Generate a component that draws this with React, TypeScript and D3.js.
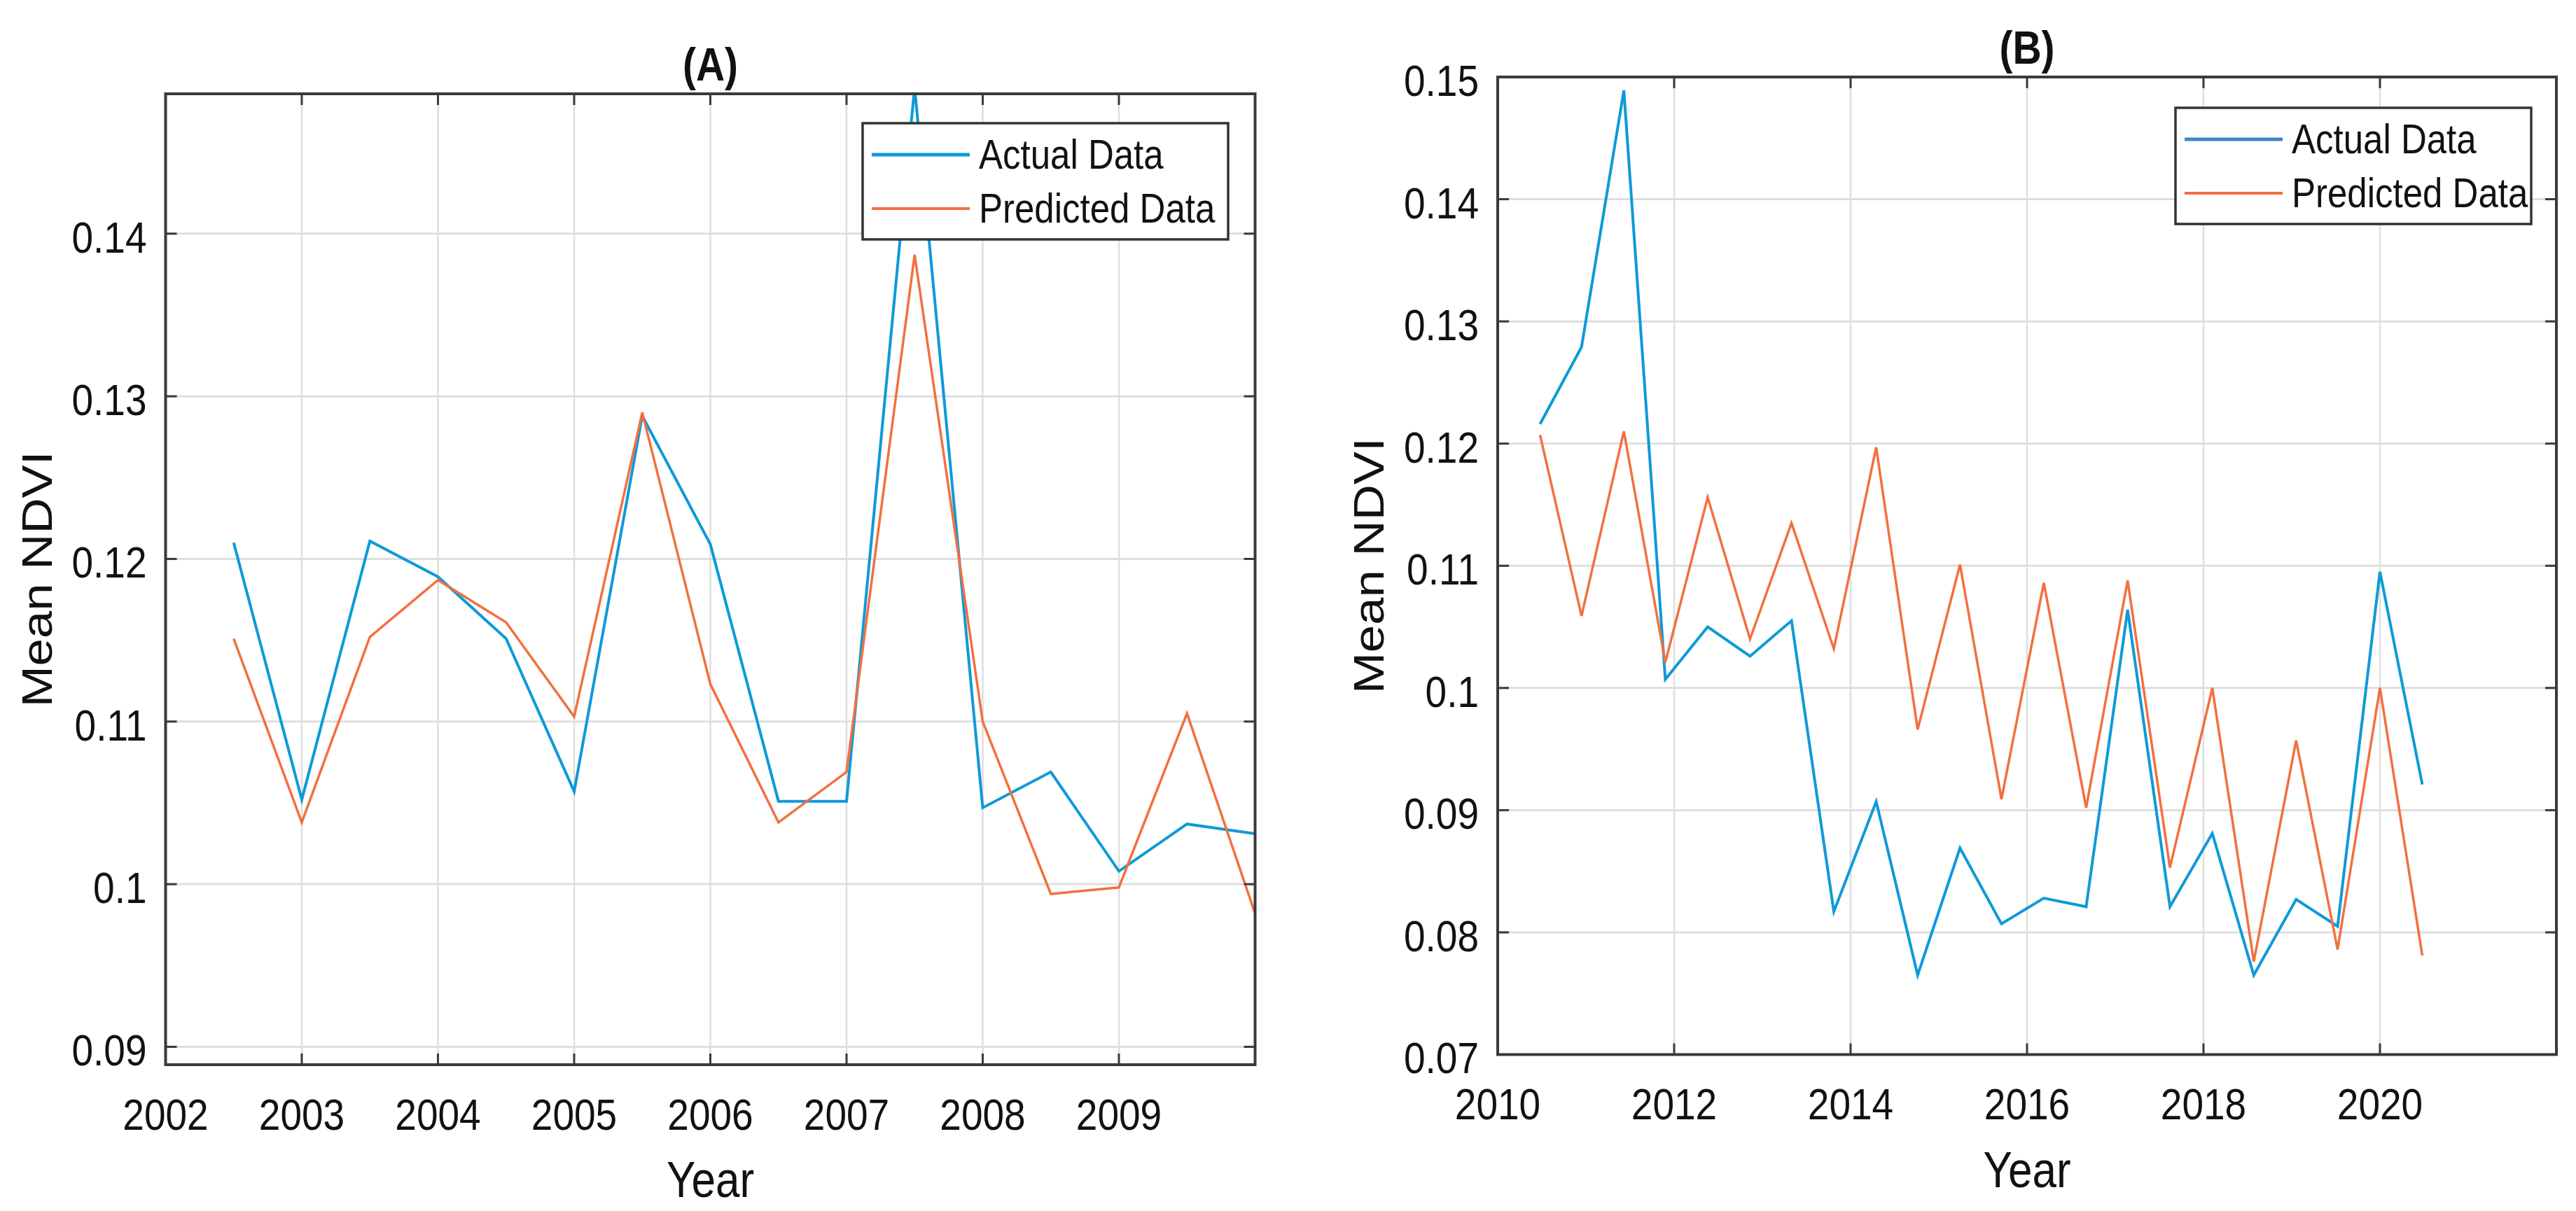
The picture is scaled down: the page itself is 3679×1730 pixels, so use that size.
import React from 'react';
import * as d3 from 'd3';

// ---- data ----
const yearsA = [2002.5, 2003, 2003.5, 2004, 2004.5, 2005, 2005.5, 2006, 2006.5, 2007, 2007.5, 2008, 2008.5, 2009, 2009.5, 2010];
const actualA = [0.1210, 0.1052, 0.1211, 0.1189, 0.1151, 0.1057, 0.1288, 0.1209, 0.1051, 0.1051, 0.1490, 0.1047, 0.1069, 0.1008, 0.1037, 0.1031];
const predictedA = [0.1151, 0.1038, 0.1152, 0.1187, 0.1161, 0.1103, 0.1290, 0.1123, 0.1038, 0.1069, 0.1387, 0.1100, 0.0994, 0.0998, 0.1105, 0.0982];

const yearsB = [2010.48, 2010.95, 2011.43, 2011.90, 2012.38, 2012.86, 2013.33, 2013.81, 2014.29, 2014.76, 2015.24, 2015.71, 2016.19, 2016.67, 2017.14, 2017.62, 2018.10, 2018.57, 2019.05, 2019.52, 2020.00, 2020.48];
const actualB = [0.1216, 0.1279, 0.1489, 0.1007, 0.1050, 0.1026, 0.1055, 0.0817, 0.0907, 0.0765, 0.0869, 0.0807, 0.0828, 0.0821, 0.1064, 0.0821, 0.0881, 0.0765, 0.0827, 0.0805, 0.1095, 0.0921];
const predictedB = [0.1207, 0.1059, 0.1210, 0.1021, 0.1156, 0.1040, 0.1135, 0.1032, 0.1197, 0.0966, 0.1101, 0.0909, 0.1086, 0.0902, 0.1088, 0.0853, 0.1000, 0.0776, 0.0957, 0.0786, 0.1000, 0.0781];

const yTicksA = [0.09, 0.10, 0.11, 0.12, 0.13, 0.14];
const xTicksA = [2002, 2003, 2004, 2005, 2006, 2007, 2008, 2009, 2010];
const xLabelsA = [2002, 2003, 2004, 2005, 2006, 2007, 2008, 2009];

const yTicksB = [0.07, 0.08, 0.09, 0.10, 0.11, 0.12, 0.13, 0.14, 0.15];
const xTicksB = [2010, 2012, 2014, 2016, 2018, 2020, 2022];
const xLabelsB = [2010, 2012, 2014, 2016, 2018, 2020];

const seriesNames = ['Actual Data', 'Predicted Data'];

const BLUE = '#0e9ad8';
const ORANGE = '#f2703f';
const FONT = '"Liberation Sans", Arial, sans-serif';
const STRETCH = 1.16; // the source figure is slightly stretched vertically

const fmtTick = (v: number) => String(+v.toFixed(2));

function SText({ x, y, size, rotate = 0, anchor = 'middle', weight = 'normal', children }: any) {
  const sc = rotate ? `scale(${STRETCH},1)` : `scale(1,${STRETCH})`;
  return (
    <text
      transform={`translate(${x},${y}) rotate(${rotate}) ${sc}`}
      textAnchor={anchor}
      dominantBaseline="central"
      fontFamily={FONT}
      fontSize={size}
      fontWeight={weight}
      fill="#111"
    >
      {children}
    </text>
  );
}

function Panel(props: any) {
  const { id, title, left, right, top, bottom, xDomain, yDomain, xs, actual, predicted, xTicks, xLabels, yTicks, legend, legendBlue } = props;
  const x = d3.scaleLinear().domain(xDomain).range([left, right]);
  const y = d3.scaleLinear().domain(yDomain).range([bottom, top]);
  const line = d3.line<number>().x((_, i) => x(xs[i])).y((d) => y(d));
  const tick = 16;
  const midX = (left + right) / 2;
  const midY = (top + bottom) / 2;

  return (
    <g>
      <defs>
        <clipPath id={`clip-${id}`}>
          <rect x={left} y={top} width={right - left} height={bottom - top} />
        </clipPath>
      </defs>
      {/* grid */}
      {xTicks.map((t: number) => (
        <line key={`gx${t}`} x1={x(t)} x2={x(t)} y1={top} y2={bottom} stroke="#dedede" strokeWidth={2.5} />
      ))}
      {yTicks.map((t: number) => (
        <line key={`gy${t}`} x1={left} x2={right} y1={y(t)} y2={y(t)} stroke="#dedede" strokeWidth={3} />
      ))}
      {/* series */}
      <g clipPath={`url(#clip-${id})`}>
        <path d={line(actual) || ''} fill="none" stroke={BLUE} strokeWidth={4} strokeLinejoin="miter" />
        <path d={line(predicted) || ''} fill="none" stroke={ORANGE} strokeWidth={3.5} strokeLinejoin="miter" />
      </g>
      {/* box */}
      <rect x={left} y={top} width={right - left} height={bottom - top} fill="none" stroke="#3a3a3a" strokeWidth={4} />
      {/* ticks */}
      {xTicks.map((t: number) => (
        <g key={`tx${t}`}>
          <line x1={x(t)} x2={x(t)} y1={bottom} y2={bottom - tick} stroke="#3a3a3a" strokeWidth={3} />
          <line x1={x(t)} x2={x(t)} y1={top} y2={top + tick} stroke="#3a3a3a" strokeWidth={3} />
        </g>
      ))}
      {yTicks.map((t: number) => (
        <g key={`ty${t}`}>
          <line x1={left} x2={left + tick} y1={y(t)} y2={y(t)} stroke="#3a3a3a" strokeWidth={3} />
          <line x1={right} x2={right - tick} y1={y(t)} y2={y(t)} stroke="#3a3a3a" strokeWidth={3} />
        </g>
      ))}
      {/* tick labels */}
      {xLabels.map((t: number) => (
        <SText key={`lx${t}`} x={x(t)} y={bottom + 71} size={55}>{t}</SText>
      ))}
      {yTicks.map((t: number) => (
        <SText key={`ly${t}`} x={left - 27} y={y(t) + 5} size={55} anchor="end">{fmtTick(t)}</SText>
      ))}
      {/* axis labels and title */}
      <SText x={midX} y={bottom + 164} size={62}>Year</SText>
      <SText x={left - 184} y={midY} size={61} rotate={-90}>Mean NDVI</SText>
      <SText x={midX} y={top - 42} size={57} weight="bold">{title}</SText>
      {/* legend */}
      <g>
        <rect x={legend.x} y={legend.y} width={legend.w} height={legend.h} fill="#fff" stroke="#333" strokeWidth={3.5} />
        {seriesNames.map((name, i) => {
          const ly = legend.y + 45 + i * 77;
          return (
            <g key={name}>
              <line x1={legend.x + 13} x2={legend.x + 153} y1={ly} y2={ly} stroke={i === 0 ? legendBlue : ORANGE} strokeWidth={i === 0 ? 5 : 4} />
              <SText x={legend.x + 166} y={ly} size={51} anchor="start">{name}</SText>
            </g>
          );
        })}
      </g>
    </g>
  );
}

export default function App() {
  return (
    <div style={{ width: 3679, height: 1730 }}>
      <style>{`body{margin:0;background:#fff}`}</style>
      <svg width={3679} height={1730} viewBox="0 0 3679 1730" style={{ display: 'block' }}>
        <rect width={3679} height={1730} fill="#fff" />
        <Panel
          id="a"
          title="(A)"
          left={236.5}
          right={1792.5}
          top={134}
          bottom={1521}
          xDomain={[2002, 2010]}
          yDomain={[0.0889, 0.1486]}
          xs={yearsA}
          actual={actualA}
          predicted={predictedA}
          xTicks={xTicksA}
          xLabels={xLabelsA}
          yTicks={yTicksA}
          legend={{ x: 1232, y: 176, w: 522, h: 166 }}
          legendBlue={BLUE}
        />
        <Panel
          id="b"
          title="(B)"
          left={2139}
          right={3651}
          top={110}
          bottom={1506.5}
          xDomain={[2010, 2022]}
          yDomain={[0.07, 0.15]}
          xs={yearsB}
          actual={actualB}
          predicted={predictedB}
          xTicks={xTicksB}
          xLabels={xLabelsB}
          yTicks={yTicksB}
          legend={{ x: 3107, y: 154, w: 508, h: 166 }}
          legendBlue="#3d86c8"
        />
      </svg>
    </div>
  );
}
